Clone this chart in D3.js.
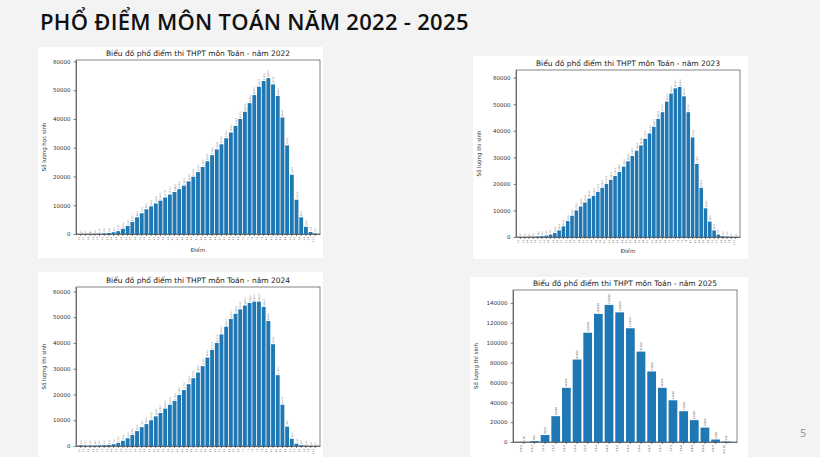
<!DOCTYPE html>
<head>
<meta charset="utf-8">
<script src="https://d3js.org/d3.v7.min.js"></script>
<style>
  body{margin:0;background:#f3f3f3;}
  text{font-family:"DejaVu Sans",sans-serif;}
  .title{font-family:"Open Sans",sans-serif;font-size:22px;font-weight:600;fill:#111;letter-spacing:0.3px;}
  .ctitle{font-size:7.5px;fill:#222;}
  .tick text{fill:#333;}
  .axis path,.axis line{stroke:#333;stroke-width:0.6;}
</style>
</head>
<body>
<script>
const steps = d3.range(51).map(i => (i*0.2).toFixed(1));
const vals2022 = [10,20,40,60,100,200,350,600,1000,1800,2800,4200,5800,7200,8600,9600,10600,11600,12700,13700,14600,15600,16800,18300,19900,21500,23300,25300,27400,29400,31200,33300,35300,37600,40000,42500,45500,48300,51200,53200,54200,52000,48000,40500,30800,20600,11900,5800,2500,700,200];
const vals2023 = [10,20,40,80,150,300,500,900,1500,2500,4000,6000,8000,10000,11500,13000,14500,15500,17000,18500,20000,21500,23000,24500,26500,28500,30500,32500,34500,37000,39000,41500,44500,47000,51000,54000,56000,56500,53000,47000,37500,27500,18500,10800,5800,2500,900,300,100,30,10];
const vals2024 = [300,100,100,150,200,300,400,700,1200,2000,3000,4300,5800,7300,8500,10000,11500,12800,14500,16000,17500,19800,21700,24000,26300,28500,31000,34300,37300,40000,43300,46300,49300,51300,53000,54500,55500,56000,56000,54000,48500,39500,27500,16000,7500,2800,900,300,100,50,20];
const bins2025 = d3.range(20).map(i => `${i*0.5}-${(i+1)*0.5}`);
const vals2025 = [100,900,7000,26000,54500,83000,110000,129000,138000,130500,114500,91000,71000,54500,42000,31000,22000,14500,2500,500];

const svg = d3.select("body").append("svg").attr("width",820).attr("height",457);
svg.append("rect").attr("width",820).attr("height",457).attr("fill","#f3f3f3");
svg.append("text").attr("class","title").attr("x",40).attr("y",30).text("PHỔ ĐIỂM MÔN TOÁN NĂM 2022 - 2025");
svg.append("text").attr("x",800).attr("y",437).attr("font-size",10).attr("fill","#999").text("5");

function chart(o){
  const g = svg.append("g");
  g.append("rect").attr("x",o.px).attr("y",o.py).attr("width",o.pw).attr("height",o.ph).attr("fill","#fff");
  const x = d3.scaleBand().domain(o.cats).range([o.x0,o.x1]).paddingInner(0.18).paddingOuter(0.6);
  const y = d3.scaleLinear().domain([0,o.ymax]).range([o.y1,o.y0]);
  g.append("text").attr("class","ctitle").attr("x",(o.x0+o.x1)/2).attr("y",o.y0-4)
    .attr("text-anchor","middle").text(o.title);
  g.append("g").attr("class","axis").attr("transform",`translate(${o.x0},0)`)
    .call(d3.axisLeft(y).ticks(o.nt).tickFormat(d3.format("d")).tickSize(2.5).tickSizeOuter(0))
    .selectAll("text").attr("font-size",5.5);
  const xa = g.append("g").attr("class","axis").attr("transform",`translate(0,${o.y1})`)
    .call(d3.axisBottom(x).tickSize(2).tickSizeOuter(0));
  xa.selectAll("text").attr("font-size",o.xfs).attr("transform","rotate(-90)")
    .attr("text-anchor","end").attr("dx","-0.4em").attr("dy","-0.5em").attr("y",0).attr("x",-2);
  g.append("rect").attr("x",o.x0).attr("y",o.y0).attr("width",o.x1-o.x0).attr("height",o.y1-o.y0)
    .attr("fill","none").attr("stroke","#333").attr("stroke-width",0.6);
  const data = o.cats.map((c,i)=>({c,v:o.vals[i]}));
  g.selectAll(".bar").data(data).enter().append("rect")
    .attr("x",d=>x(d.c)).attr("width",x.bandwidth())
    .attr("y",d=>y(d.v)).attr("height",d=>y(0)-y(d.v)).attr("fill","#1f77b4");
  g.selectAll(".vl").data(data).enter().append("text")
    .attr("transform",d=>`translate(${x(d.c)+x.bandwidth()/2+1},${y(d.v)-1}) rotate(-90)`)
    .attr("font-size",o.xfs).attr("fill","#555").text(d=>d.v);
  g.append("text").attr("transform",`translate(${o.px+8},${(o.y0+o.y1)/2}) rotate(-90)`)
    .attr("text-anchor","middle").attr("font-size",5.5).attr("fill","#333").text(o.ylab);
  if(o.xlab) g.append("text").attr("x",(o.x0+o.x1)/2).attr("y",o.py+o.ph-6)
    .attr("text-anchor","middle").attr("font-size",5.5).attr("fill","#333").text(o.xlab);
}

chart({px:38,py:47,pw:285,ph:211,x0:76,x1:320,y0:60,y1:234,ymax:60500,nt:6,cats:steps,vals:vals2022,
  title:"Biểu đồ phổ điểm thi THPT môn Toán - năm 2022",ylab:"Số lượng học sinh",xlab:"Điểm",xfs:2.2});
chart({px:473,py:56,pw:275,ph:203,x0:516,x1:740,y0:70,y1:237,ymax:62900,nt:6,cats:steps,vals:vals2023,
  title:"Biểu đồ phổ điểm thi THPT môn Toán - năm 2023",ylab:"Số lượng thí sinh",xlab:"Điểm",xfs:2.2});
chart({px:38,py:272,pw:285,ph:185,x0:76,x1:320,y0:287,y1:446,ymax:61700,nt:6,cats:steps,vals:vals2024,
  title:"Biểu đồ phổ điểm thi THPT môn Toán - năm 2024",ylab:"Số lượng thí sinh",xlab:null,xfs:2.2});
chart({px:470,py:277,pw:278,ph:180,x0:513,x1:737,y0:290,y1:442,ymax:153000,nt:7,cats:bins2025,vals:vals2025,
  title:"Biểu đồ phổ điểm thi THPT môn Toán - năm 2025",ylab:"Số lượng thí sinh",xlab:null,xfs:2.6});
</script>
</body>
